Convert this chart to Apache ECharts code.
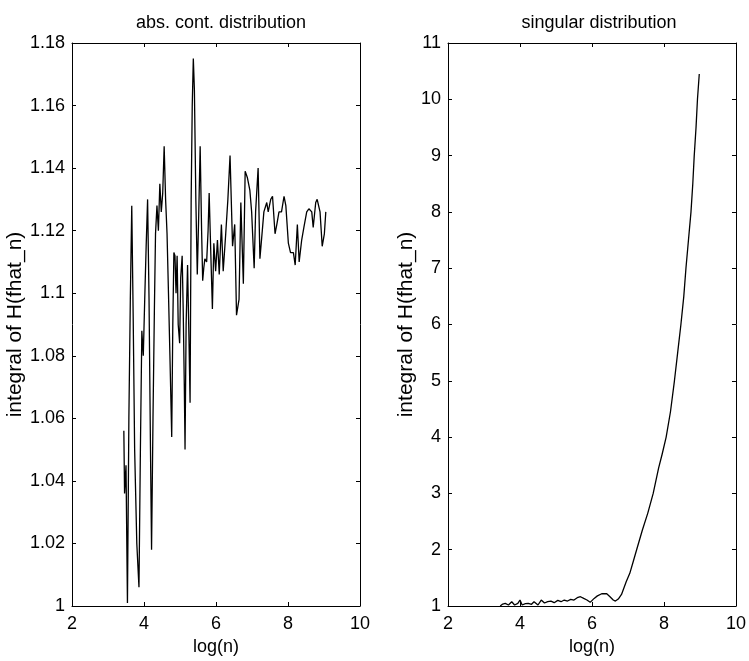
<!DOCTYPE html>
<html>
<head>
<meta charset="utf-8">
<script src="https://cdn.jsdelivr.net/npm/echarts@6/dist/echarts.min.js"></script>
<style>
html,body{margin:0;padding:0;background:#fff;}
#chart{width:749px;height:661px;}
</style>
</head>
<body>
<div id="chart"></div>
<script>
// Left panel: abs. cont. distribution
const absX = [3.44,3.46,3.50,3.54,3.58,3.62,3.66,3.70,3.74,3.80,3.86,3.90,3.94,3.98,4.02,4.06,4.10,4.14,4.18,4.21,4.25,4.29,4.32,4.36,4.40,4.44,4.48,4.52,4.56,4.60,4.64,4.68,4.72,4.77,4.80,4.83,4.86,4.89,4.92,4.95,4.99,5.02,5.06,5.09,5.12,5.14,5.17,5.21,5.25,5.28,5.31,5.34,5.37,5.40,5.44,5.48,5.52,5.56,5.60,5.63,5.66,5.69,5.74,5.78,5.81,5.85,5.90,5.94,5.99,6.04,6.09,6.15,6.20,6.27,6.33,6.39,6.46,6.52,6.57,6.64,6.69,6.76,6.81,6.87,6.94,6.99,7.06,7.10,7.17,7.22,7.27,7.33,7.41,7.45,7.52,7.57,7.64,7.69,7.75,7.82,7.89,7.94,8.01,8.07,8.15,8.20,8.26,8.31,8.38,8.44,8.52,8.58,8.66,8.70,8.77,8.81,8.89,8.95,9.01,9.05];
const absY = [1.056,1.036,1.045,1.001,1.060,1.098,1.128,1.092,1.050,1.020,1.006,1.050,1.088,1.080,1.098,1.115,1.130,1.098,1.050,1.018,1.060,1.096,1.119,1.128,1.120,1.135,1.126,1.132,1.147,1.130,1.119,1.100,1.080,1.054,1.090,1.113,1.112,1.100,1.112,1.090,1.084,1.105,1.112,1.094,1.070,1.050,1.090,1.109,1.085,1.065,1.130,1.160,1.175,1.165,1.130,1.106,1.125,1.147,1.120,1.104,1.108,1.111,1.110,1.120,1.132,1.115,1.095,1.116,1.107,1.117,1.106,1.122,1.107,1.119,1.130,1.144,1.115,1.122,1.093,1.098,1.129,1.103,1.139,1.137,1.133,1.126,1.108,1.126,1.140,1.111,1.111,1.126,1.129,1.126,1.130,1.131,1.119,1.122,1.126,1.126,1.131,1.128,1.116,1.113,1.113,1.109,1.122,1.110,1.117,1.121,1.126,1.127,1.126,1.121,1.129,1.130,1.126,1.115,1.119,1.126];

// Right panel: singular distribution
const singX = [3.45,3.52,3.59,3.68,3.77,3.85,3.94,4.00,4.06,4.15,4.23,4.32,4.39,4.50,4.59,4.68,4.77,4.86,4.95,5.05,5.14,5.23,5.32,5.41,5.50,5.59,5.68,5.77,5.86,5.95,6.00,6.06,6.15,6.27,6.41,6.50,6.59,6.65,6.73,6.82,6.95,7.05,7.15,7.24,7.40,7.55,7.70,7.85,7.95,8.06,8.18,8.29,8.38,8.47,8.55,8.61,8.68,8.75,8.80,8.84,8.89,8.93,8.98];
const singY = [1.0,1.035,1.047,1.018,1.076,1.018,1.047,1.106,1.018,1.041,1.047,1.03,1.076,1.018,1.106,1.053,1.076,1.088,1.059,1.1,1.076,1.106,1.088,1.118,1.106,1.147,1.165,1.135,1.106,1.065,1.047,1.135,1.18,1.218,1.218,1.165,1.106,1.088,1.124,1.206,1.43,1.58,1.8,2.0,2.35,2.65,3.0,3.45,3.7,4.0,4.45,5.0,5.5,6.0,6.5,7.0,7.5,8.0,8.5,9.0,9.5,10.0,10.45];

const titles = ['abs. cont. distribution', 'singular distribution'];
const xName = 'log(n)';
const yName = 'integral of H(fhat_n)';

const FONT = 'Liberation Sans, Arial, Helvetica, sans-serif';
const FS = 18;
const FSY = 21;
const black = '#000';

function pairs(xs, ys){ return xs.map((x,i)=>[x, ys[i]]); }

const chart = echarts.init(document.getElementById('chart'), null, {renderer:'canvas'});

const grids = [
  {left:72, top:43, width:288, height:566},
  {left:448, top:43, width:293, height:566}
];

function xAxes(gi){
  const base = {
    gridIndex: gi, type:'value', min:2, max:10, interval:2,
    axisLine:{show:true, lineStyle:{color:black, width:1}},
    axisTick:{show:true, inside:true, length:4, lineStyle:{color:black}},
    splitLine:{show:false}
  };
  return [
    Object.assign({}, base, {
      position:'bottom',
      axisLabel:{show:true, color:black, fontFamily:FONT, fontSize:FS, margin:9},
      name:xName, nameLocation:'middle', nameGap:32,
      nameTextStyle:{color:black, fontFamily:FONT, fontSize:FS}
    }),
    Object.assign({}, base, {position:'top', axisLabel:{show:false}})
  ];
}

function yAxes(gi, min, max, interval, fmt, gap){
  const base = {
    gridIndex: gi, type:'value', min:min, max:max, interval:interval,
    axisLine:{show:true, lineStyle:{color:black, width:1}},
    axisTick:{show:true, inside:true, length:4, lineStyle:{color:black}},
    splitLine:{show:false}
  };
  return [
    Object.assign({}, base, {
      position:'left',
      axisLabel:{show:true, color:black, fontFamily:FONT, fontSize:FS, margin:7, formatter:fmt},
      name:yName, nameLocation:'middle', nameGap:gap, nameRotate:90,
      nameTextStyle:{color:black, fontFamily:FONT, fontSize:FSY}
    }),
    Object.assign({}, base, {position:'right', axisLabel:{show:false}})
  ];
}

const option = {
  backgroundColor:'#fff',
  animation:false,
  title:[
    {text:titles[0], left:216, top:9, textAlign:'center', textStyle:{fontFamily:FONT, fontSize:FS, fontWeight:'normal', color:black}},
    {text:titles[1], left:594, top:9, textAlign:'center', textStyle:{fontFamily:FONT, fontSize:FS, fontWeight:'normal', color:black}}
  ],
  grid:grids,
  xAxis:[].concat(xAxes(0), xAxes(1)),
  yAxis:[].concat(
    yAxes(0, 1, 1.18, 0.02, v => String(parseFloat(v.toFixed(2))), 43),
    yAxes(1, 1, 11, 1, v => String(Math.round(v)), 29)
  ),
  series:[
    {type:'line', xAxisIndex:0, yAxisIndex:0, data:pairs(absX, absY), showSymbol:false, lineStyle:{color:black, width:1.3}},
    {type:'line', xAxisIndex:2, yAxisIndex:2, data:pairs(singX, singY), showSymbol:false, lineStyle:{color:black, width:1.3}}
  ]
};
chart.setOption(option);
</script>
</body>
</html>
